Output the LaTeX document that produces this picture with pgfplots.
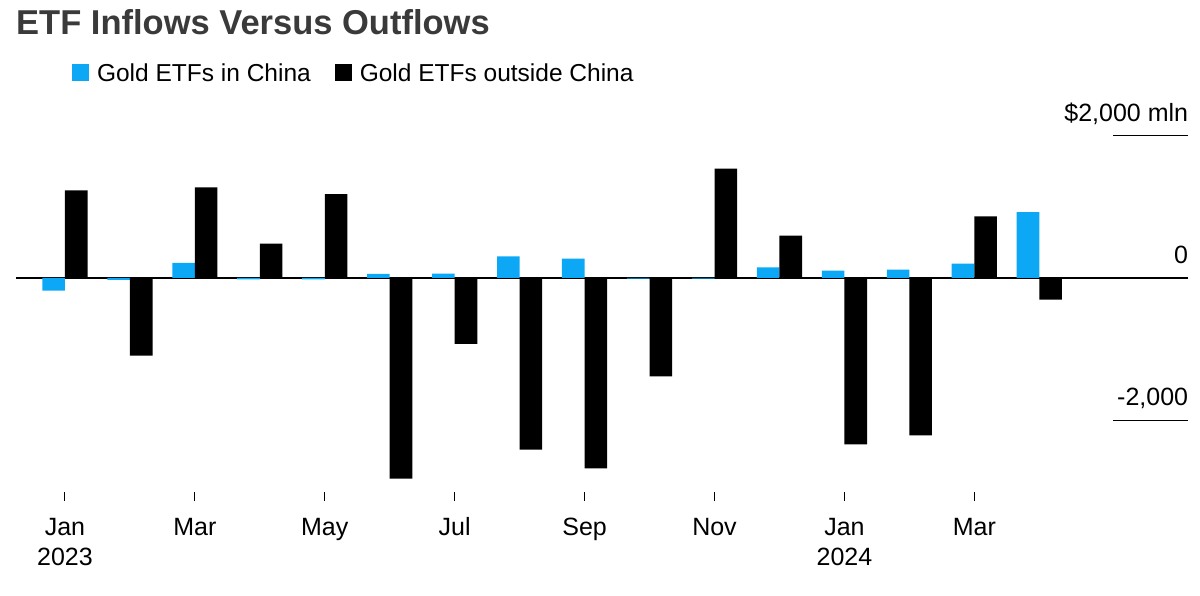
\documentclass[border=0pt]{standalone}
\usepackage{pgfplots}
\pgfplotsset{compat=1.18}
\usepackage{fontspec}
\setmainfont{Liberation Sans}
\definecolor{cnblue}{RGB}{13,168,245}
\definecolor{titlegray}{RGB}{58,58,58}
\newcommand{\tl}{\rule{0pt}{19pt}}
\begin{document}
\begin{tikzpicture}[x=1pt,y=1pt]
\path[use as bounding box] (0,0) rectangle (1200,595);
\node[anchor=base west, font=\fontsize{34.5}{40}\selectfont\bfseries, text=titlegray, inner sep=0pt] at (16,560) {ETF Inflows Versus Outflows};
\begin{axis}[
  at={(16pt,103pt)}, anchor=south west,
  scale only axis, width=1172pt, height=362pt,
  xmin=-0.754, xmax=17.29, ymin=-3008, ymax=2080,
  ybar=0pt, bar width=22.6pt,
  axis x line*=bottom, axis y line*=right,
  axis line style={draw=none},
  tick align=outside,
  xtick={0,2,...,14},
  xticklabels={{\tl Jan\\2023},{\tl Mar},{\tl May},{\tl Jul},{\tl Sep},{\tl Nov},{\tl Jan\\2024},{\tl Mar}},
  xtick style={black, line width=1pt, /pgfplots/major tick length=9pt},
  x tick label style={font=\fontsize{25}{30}\selectfont, align=center, inner sep=0pt, anchor=north, yshift=-20pt},
  ytick={-2000,0,2000},
  yticklabels={{-2,000},{0},{\$2,000 mln}},
  yticklabel pos=right,
  ytick style={black, line width=1.5pt, xshift=-75pt, /pgfplots/major tick length=75pt},
  y tick label style={font=\fontsize{25}{30}\selectfont, inner sep=0pt, anchor=base east, yshift=14.5pt, xshift=-4pt},
  extra y ticks={0}, extra y tick labels={},
  extra y tick style={grid=major, major grid style={black, line width=1.3pt}},
  legend columns=2,
  legend style={at={(axis description cs:0.0478,1.1575)}, anchor=west, draw=none, fill=none,
    inner sep=0pt, outer sep=0pt, font=\fontsize{24.5}{28}\selectfont,
    nodes={inner sep=0pt},
    /tikz/every odd column/.append style={column sep=8pt},
    /tikz/every even column/.append style={column sep=24pt}},
  legend image code/.code={\fill[#1] (0pt,-8.5pt) rectangle (17pt,8.5pt);},
  clip=false,
]
\addplot[fill=cnblue, draw=none] coordinates {
 (0,-178) (1,-25) (2,211) (3,-20) (4,-20) (5,56) (6,61) (7,304)
 (8,272) (9,-10) (10,-10) (11,150) (12,103) (13,117) (14,201) (15,927)};
\addlegendentry{Gold ETFs in China}
\addplot[fill=black, draw=none] coordinates {
 (0,1232) (1,-1092) (2,1274) (3,482) (4,1180) (5,-2820) (6,-927) (7,-2412)
 (8,-2675) (9,-1382) (10,1536) (11,595) (12,-2337) (13,-2211) (14,867) (15,-305)};
\addlegendentry{Gold ETFs outside China}
\end{axis}
\end{tikzpicture}
\end{document}
